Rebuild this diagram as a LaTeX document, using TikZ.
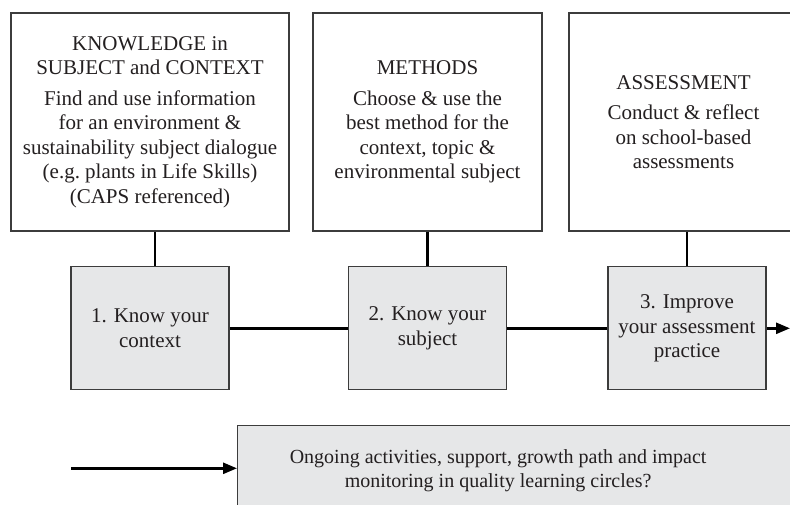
\documentclass[tikz,border=0pt]{standalone}
\usepackage{fontspec}
\setmainfont{Liberation Serif}
\usetikzlibrary{arrows.meta}
\definecolor{boxline}{HTML}{3C3C3C}
\definecolor{stepfill}{HTML}{E6E7E8}
\definecolor{ink}{HTML}{231F20}
\begin{document}
\begin{tikzpicture}[x=1pt,y=-1pt,
  every node/.style={font=\fontsize{21}{24.5}\selectfont, text=ink, align=center, inner sep=0pt},
  topic/.style={draw=boxline, line width=1.2pt, fill=white, minimum height=218pt},
  stepbox/.style={draw=boxline, line width=1.2pt, fill=stepfill, minimum width=158pt, minimum height=123pt},
  link/.style={line width=2.5pt, black},
  flow/.style={link, -{Triangle[length=14pt,width=11pt]}}
]
\useasboundingbox (0,0) rectangle (790,505);
\clip (0,0) rectangle (790,505);

% upper row: areas of knowledge
\node[topic, minimum width=278pt] (know) at (150,122)
  {KNOWLEDGE in\\SUBJECT and CONTEXT\\[6pt]Find and use information\\for an environment \&\\sustainability subject dialogue\\(e.g.\ plants in Life Skills)\\(CAPS referenced)};
\node[topic, minimum width=229pt] (meth) at (427.5,122)
  {METHODS\\[6pt]Choose \& use the\\best method for the\\context, topic \&\\environmental subject};
\node[topic, minimum width=229pt] (assess) at (683.5,122)
  {ASSESSMENT\\[6pt]Conduct \& reflect\\on school-based\\assessments};

% middle row: the three steps
\node[stepbox] (s1) at (150,328.3) {1. Know your\\context};
\node[stepbox] (s2) at (427.5,328.3) {2. Know your\\subject};
\node[stepbox] (s3) at (687,328.3) {3. Improve\\your assessment\\practice};

% lower row: ongoing support
\node[stepbox, minimum width=0pt, minimum height=90pt, anchor=north west,
      font=\fontsize{20}{24}\selectfont] (circle) at (237,425)
  {\parbox{521pt}{\centering Ongoing activities, support, growth path and impact\\monitoring in quality learning circles?}\hspace{80pt}};

% connectors
\draw[link] ([xshift=5pt]know.south) -- ([xshift=5pt]s1.north);
\draw[link] (meth.south) -- (s2.north);
\draw[link] (s3.north |- assess.south) -- (s3.north);
\draw[link] (s1.east) -- (s2.west);
\draw[link] (s2.east) -- (s3.west);
\coordinate (out) at (790,328.3);
\draw[flow] (s3.east) -- (out);
\coordinate (feed) at (71,468.3);
\draw[flow] (feed) -- (feed -| circle.west);
\end{tikzpicture}
\end{document}
